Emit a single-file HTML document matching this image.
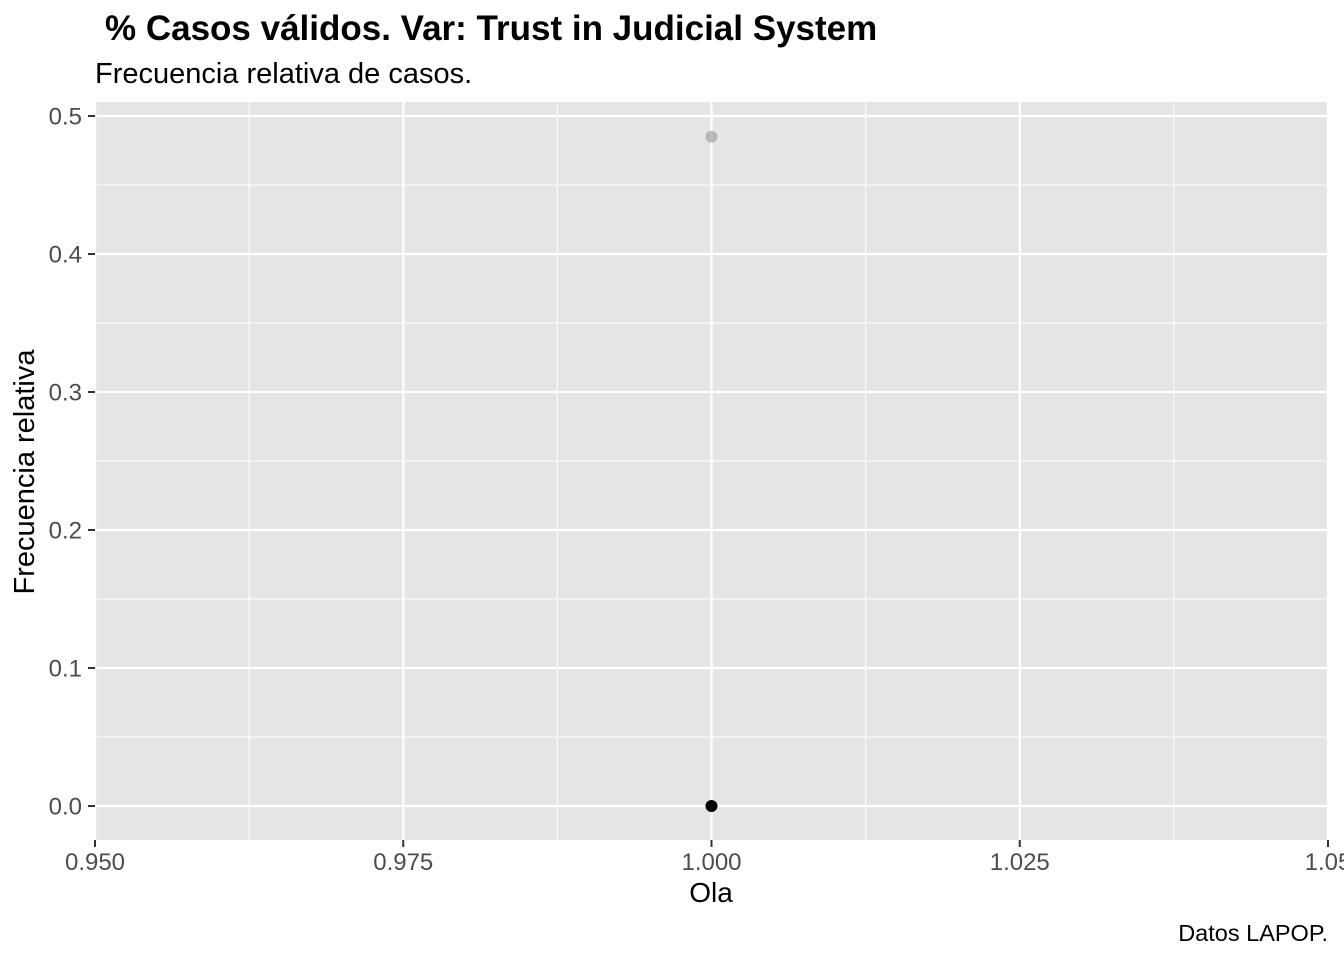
<!DOCTYPE html>
<html><head><meta charset="utf-8"><style>
body{margin:0;background:#fff;}
svg{display:block;font-family:"Liberation Sans",Arial,sans-serif;}
</style></head><body>
<svg id="chart" width="1344" height="960">
<text x="105" y="40" font-size="35" font-weight="bold" fill="#000">% Casos válidos. Var: Trust in Judicial System</text>
<text x="95" y="83" font-size="29" fill="#000">Frecuencia relativa de casos.</text>
<rect x="95" y="102" width="1233" height="738" fill="#e5e5e5"/>
<g id="grid"></g><g id="axes"></g><g id="points"></g>
<text x="711" y="902" font-size="28" text-anchor="middle" fill="#000">Ola</text>
<text transform="translate(34,472) rotate(-90)" font-size="29" text-anchor="middle" fill="#000">Frecuencia relativa</text>
<text x="1328" y="941" font-size="23.5" text-anchor="end" fill="#000">Datos LAPOP.</text>
</svg>
<script>
const xTicks=[0.95,0.975,1.0,1.025,1.05];
const xTickLabels=["0.950","0.975","1.000","1.025","1.05"];
const yTicks=[0,0.1,0.2,0.3,0.4,0.5];
const yTickLabels=["0.0","0.1","0.2","0.3","0.4","0.5"];
const pointX=[1.0,1.0];
const pointY=[0.485,0.0];
const pointColors=["rgba(150,150,150,0.6)","#000"];
const NS="http://www.w3.org/2000/svg";
function xs(v){return 95+(v-0.95)/0.1*1233;}
function ys(v){return 806-v*1380;}
function mk(tag,attrs,parent){const e=document.createElementNS(NS,tag);for(const k in attrs)e.setAttribute(k,attrs[k]);parent.appendChild(e);return e;}
const grid=document.getElementById('grid'),axes=document.getElementById('axes'),pts=document.getElementById('points');
for(let i=0;i<xTicks.length-1;i++){const m=(xTicks[i]+xTicks[i+1])/2;
const l=mk('line',{x1:xs(m),x2:xs(m),y1:102,y2:840,stroke:'#fff','stroke-width':1},grid);

}
for(let i=0;i<yTicks.length-1;i++){const m=(yTicks[i]+yTicks[i+1])/2;
const l=mk('line',{x1:95,x2:1328,y1:ys(m),y2:ys(m),stroke:'#fff','stroke-width':1},grid);

}
xTicks.forEach((v,i)=>{
const l=mk('line',{x1:xs(v),x2:xs(v),y1:102,y2:840,stroke:'#fff','stroke-width':2.2},grid);


const t=mk('line',{x1:xs(v),x2:xs(v),y1:840,y2:847,stroke:'#333','stroke-width':2},axes);


const tx=mk('text',{x:xs(v),y:870,'font-size':24,'text-anchor':'middle',fill:'#4d4d4d'},axes);
tx.textContent=xTickLabels[i];

});
yTicks.forEach((v,i)=>{
const l=mk('line',{x1:95,x2:1328,y1:ys(v),y2:ys(v),stroke:'#fff','stroke-width':2.2},grid);


const t=mk('line',{x1:88,x2:95,y1:ys(v),y2:ys(v),stroke:'#333','stroke-width':2},axes);


const tx=mk('text',{x:82,y:ys(v)+8.5,'font-size':24,'text-anchor':'end',fill:'#4d4d4d'},axes);
tx.textContent=yTickLabels[i];

});
pointX.forEach((v,i)=>{
const c=mk('circle',{cx:xs(v),cy:ys(pointY[i]),r:6,fill:pointColors[i]},pts);

});
</script>
</body></html>
